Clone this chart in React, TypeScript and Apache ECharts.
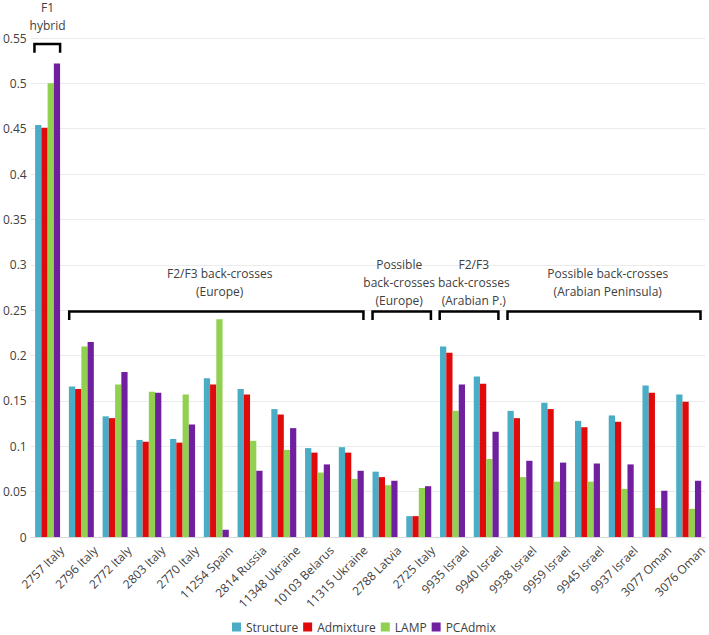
import React, { useEffect, useRef } from "react";
import * as echarts from "echarts";

const categories = [
  "2757 Italy", "2796 Italy", "2772 Italy", "2803 Italy", "2770 Italy",
  "11254 Spain", "2814 Russia", "11348 Ukraine", "10103 Belarus", "11315 Ukraine",
  "2788 Latvia", "2725 Italy", "9935 Israel", "9940 Israel", "9938 Israel",
  "9959 Israel", "9945 Israel", "9937 Israel", "3077 Oman", "3076 Oman",
];

const structure = [0.454, 0.166, 0.133, 0.107, 0.108, 0.175, 0.163, 0.141, 0.098, 0.099, 0.072, 0.023, 0.210, 0.177, 0.139, 0.148, 0.128, 0.134, 0.167, 0.157];
const admixture = [0.451, 0.163, 0.131, 0.105, 0.104, 0.168, 0.157, 0.135, 0.093, 0.093, 0.066, 0.023, 0.203, 0.169, 0.131, 0.141, 0.121, 0.127, 0.159, 0.149];
const lamp = [0.500, 0.210, 0.168, 0.160, 0.157, 0.240, 0.106, 0.096, 0.071, 0.064, 0.057, 0.054, 0.139, 0.086, 0.066, 0.061, 0.061, 0.053, 0.032, 0.031];
const pcadmix = [0.522, 0.215, 0.182, 0.159, 0.124, 0.008, 0.073, 0.120, 0.080, 0.073, 0.062, 0.056, 0.168, 0.116, 0.084, 0.082, 0.081, 0.080, 0.051, 0.062];

const seriesNames = ["Structure", "Admixture", "LAMP", "PCAdmix"];
const seriesColors = ["#4bacc6", "#e00a0a", "#92d050", "#70209e"];

// Group annotations: label lines, bracket span in category units, text centre in category units
const groupLabels = [
  ["F1", "hybrid"],
  ["F2/F3 back-crosses", "(Europe)"],
  ["Possible", "back-crosses", "(Europe)"],
  ["F2/F3", "back-crosses", "(Arabian P.)"],
  ["Possible back-crosses", "(Arabian Peninsula)"],
];
const groupSpanStart = [-0.39, 0.64, 9.63, 11.62, 13.63];
const groupSpanEnd = [0.37, 9.36, 11.36, 13.36, 19.35];
const groupTextCenter = [0, 5.1, 10.42, 12.63, 16.6];
const groupBracketTop = [0.5434, 0.2485, 0.2485, 0.2485, 0.2485];
const groupBracketBottom = [0.5338, 0.2393, 0.2393, 0.2393, 0.2393];
const groupLastLine = [0.5636, 0.2705, 0.2606, 0.2606, 0.2705];

const FONT = "'Open Sans', 'Noto Sans', sans-serif";
const LINE_STEP = 18;

export default function App() {
  const ref = useRef<HTMLDivElement>(null);

  useEffect(() => {
    if (!ref.current) return;
    const chart = echarts.init(ref.current, null, { renderer: "svg" });
    const data = [structure, admixture, lamp, pcadmix];
    chart.setOption({
      animation: false,
      textStyle: { fontFamily: FONT },
      grid: { left: 27, right: -1, top: 38, bottom: 98, containLabel: false },
      legend: {
        data: seriesNames,
        left: 232,
        top: 621,
        padding: 0,
        icon: "rect",
        itemWidth: 9,
        itemHeight: 9,
        itemGap: 5,
        textStyle: { fontSize: 12, color: "#404040", fontFamily: FONT },
      },
      xAxis: {
        type: "category",
        data: categories,
        axisTick: { show: false },
        axisLine: { lineStyle: { color: "#d9d9d9" } },
        axisLabel: {
          rotate: 45,
          interval: 0,
          fontSize: 12,
          color: "#404040",
          fontFamily: FONT,
          margin: -3,
          align: "right",
          verticalAlign: "top",
          padding: [14, 0, 0, 0],
        },
      },
      yAxis: {
        type: "value",
        min: 0,
        max: 0.55,
        interval: 0.05,
        axisLine: { show: false },
        axisTick: { show: false },
        splitLine: { lineStyle: { color: "#ebebeb" } },
        axisLabel: {
          fontSize: 12,
          color: "#404040",
          fontFamily: FONT,
          margin: 4,
          formatter: (v: number) => String(+v.toFixed(2)),
        },
      },
      series: seriesNames.map((name, i) => ({
        name,
        type: "bar",
        data: data[i],
        barGap: "0%",
        barCategoryGap: "26%",
        itemStyle: { color: seriesColors[i] },
      })),
    });

    const x0 = chart.convertToPixel({ xAxisIndex: 0 }, 0) as number;
    const x1 = chart.convertToPixel({ xAxisIndex: 0 }, 1) as number;
    const xAt = (u: number) => x0 + u * (x1 - x0);
    const yAt = (v: number) => chart.convertToPixel({ yAxisIndex: 0 }, v) as number;

    const graphics: any[] = [];
    groupLabels.forEach((lines, i) => {
      const xa = xAt(groupSpanStart[i]);
      const xb = xAt(groupSpanEnd[i]);
      const yt = yAt(groupBracketTop[i]);
      const yb = yAt(groupBracketBottom[i]);
      graphics.push({
        type: "polyline",
        shape: { points: [[xa, yb], [xa, yt], [xb, yt], [xb, yb]] },
        style: { stroke: "#000", lineWidth: 2.5, fill: null },
        silent: true,
      });
      const cx = xAt(groupTextCenter[i]);
      const lastY = yAt(groupLastLine[i]);
      lines.forEach((line, k) => {
        graphics.push({
          type: "text",
          x: cx,
          y: lastY - (lines.length - 1 - k) * LINE_STEP,
          style: {
            text: line,
            font: `12px ${FONT}`,
            fill: "#404040",
            align: "center",
            verticalAlign: "middle",
            lineHeight: 12,
          },
          silent: true,
        });
      });
    });
    chart.setOption({ graphic: graphics });

    return () => chart.dispose();
  }, []);

  return (
    <div
      ref={ref}
      style={{ position: "absolute", left: 0, top: 0, width: 709, height: 635, background: "#fff" }}
    />
  );
}
